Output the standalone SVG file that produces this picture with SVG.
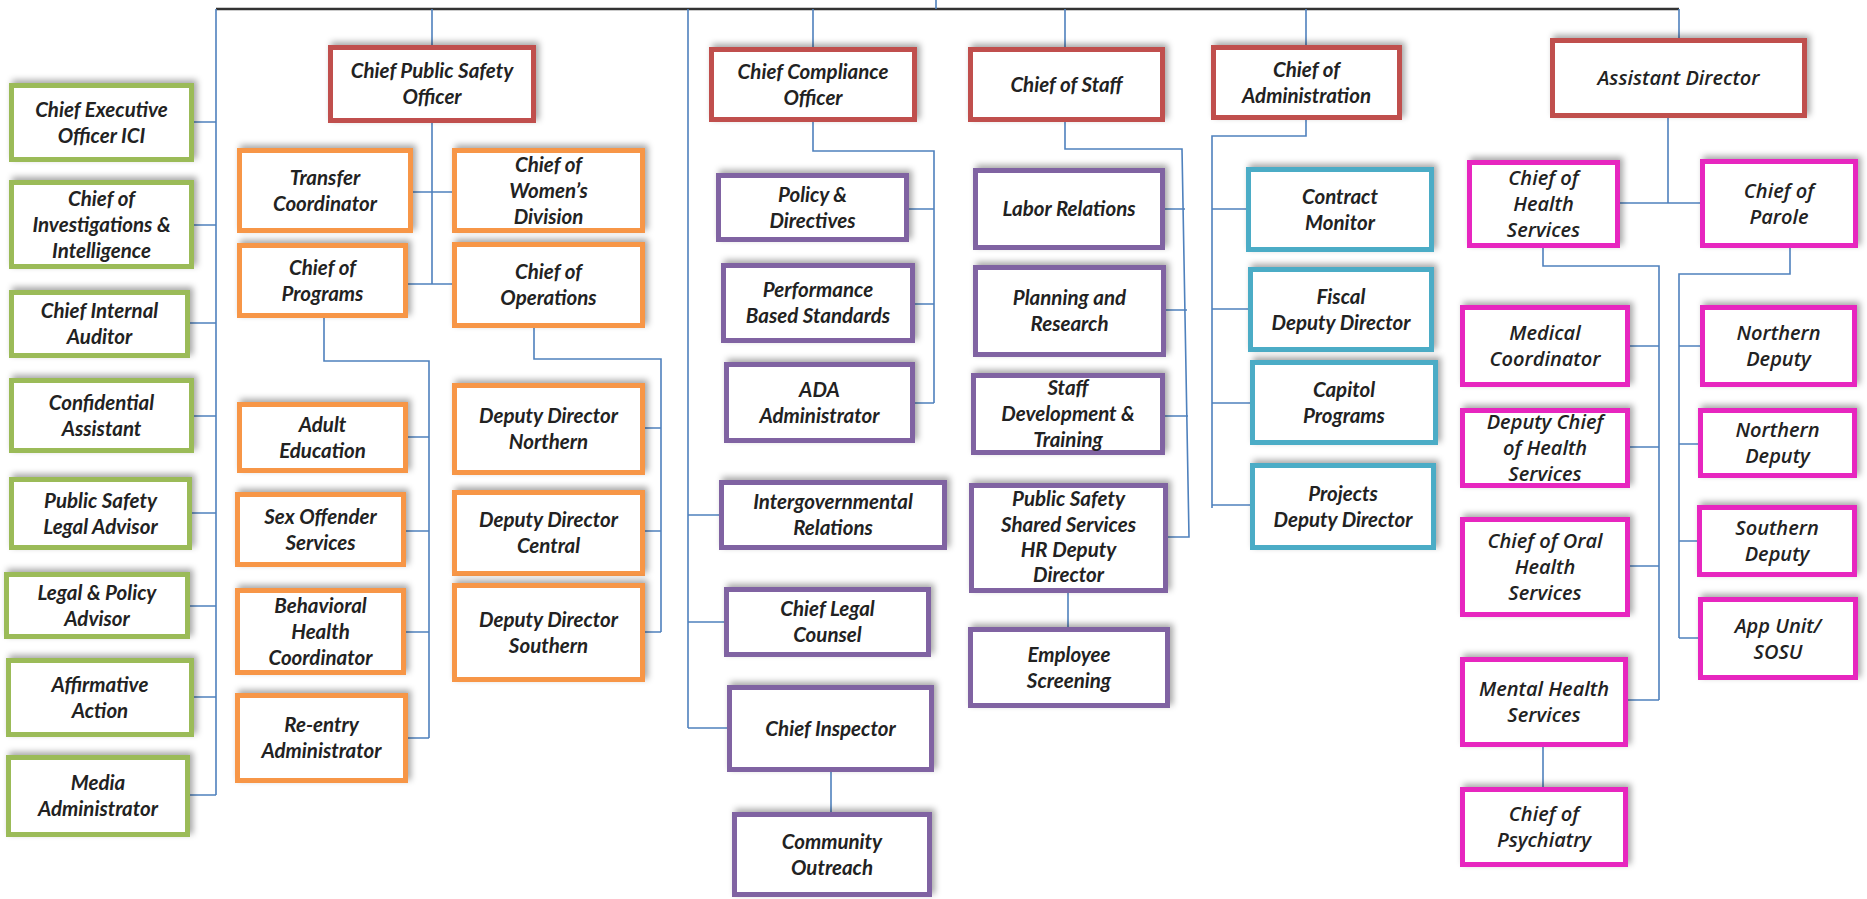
<svg xmlns="http://www.w3.org/2000/svg" width="1867" height="899" viewBox="0 0 1867 899">
<defs>
<filter id="sh" x="-10%" y="-20%" width="120%" height="140%">
<feDropShadow dx="3" dy="-3" stdDeviation="3" flood-color="#000" flood-opacity="0.35"/>
</filter>
<style>
.b{fill:#fff;stroke-width:5;filter:url(#sh)}
.g{stroke:#9BBB59}.r{stroke:#C0504D}.o{stroke:#F79646}.p{stroke:#8064A2}.c{stroke:#4BACC6}.k{stroke:#E727BF}
.t{font-family:Lato,"Liberation Sans",sans-serif;font-style:italic;font-weight:bold;font-size:20.5px;fill:#222;text-anchor:middle}
.t2{font-family:"Open Sans","DejaVu Sans",sans-serif;font-style:italic;font-weight:600;font-size:20px;fill:#222;text-anchor:middle}
.ln{stroke:#4F81BD;stroke-width:1.6;fill:none}
.top{stroke:#333;stroke-width:2.5;fill:none}
</style>
</defs>
<rect width="1867" height="899" fill="#fff"/>

<g id="connectors">
<path class="top" d="M216 9H1679"/>
<path class="ln" d="M936 0V9"/>
<path class="ln" d="M216 9V795M194 122H216M194 225H216M190 323H216M194 416H216M192 513H216M190 606H216M194 697H216M190 795H216"/>
<path class="ln" d="M432 9V45M432 123V284M413 192H452M408 284H452"/>
<path class="ln" d="M324 318V361H429V738M408 437H429M406 531H429M406 632H429M408 738H429"/>
<path class="ln" d="M534 328V359H661V632M645 428H661M645 531H661M645 632H661"/>
<path class="ln" d="M688 9V728M688 515H719M688 622H724M688 728H727"/>
<path class="ln" d="M813 9V47M813 122V151H934V403M909 209H934M915 304H934M915 403H934"/>
<path class="ln" d="M831 772V812"/>
<path class="ln" d="M1065 9V47M1065 122V149H1182L1189 537H1168M1165 209H1185M1166 310H1187M1165 416H1188"/>
<path class="ln" d="M1068 593V627"/>
<path class="ln" d="M1306 9V45M1306 120V136H1212V508M1212 209H1246M1212 309H1248M1212 403H1250M1212 505H1250"/>
<path class="ln" d="M1679 9V38M1668 118V203M1620 203H1700"/>
<path class="ln" d="M1543 248V266H1659V700M1630 346H1659M1630 447H1659M1630 566H1659M1628 700H1659"/>
<path class="ln" d="M1790 248V274H1679V638M1679 346H1700M1679 444H1698M1679 541H1697M1679 638H1698"/>
<path class="ln" d="M1543 747V787"/>
</g>

<g id="n-ceo"><rect class="b g" x="11.5" y="85.5" width="180" height="74"/><text class="t"><tspan x="101.5" y="116.5">Chief Executive</tspan><tspan x="101.5" y="142.5">Officer  ICI</tspan></text></g>
<g id="n-inv"><rect class="b g" x="11.5" y="182.5" width="180" height="84"/><text class="t"><tspan x="101.5" y="205.5">Chief of</tspan><tspan x="101.5" y="231.5">Investigations &amp;</tspan><tspan x="101.5" y="257.5">Intelligence</tspan></text></g>
<g id="n-aud"><rect class="b g" x="11.5" y="292.5" width="176" height="63"/><text class="t"><tspan x="99.5" y="318">Chief Internal</tspan><tspan x="99.5" y="344">Auditor</tspan></text></g>
<g id="n-conf"><rect class="b g" x="11.5" y="380.5" width="180" height="70"/><text class="t"><tspan x="101.5" y="409.5">Confidential</tspan><tspan x="101.5" y="435.5">Assistant</tspan></text></g>
<g id="n-psla"><rect class="b g" x="11.5" y="479.5" width="178" height="68"/><text class="t"><tspan x="100.5" y="507.5">Public Safety</tspan><tspan x="100.5" y="533.5">Legal  Advisor</tspan></text></g>
<g id="n-lpa"><rect class="b g" x="6.5" y="574.5" width="181" height="62"/><text class="t"><tspan x="97" y="599.5">Legal &amp; Policy</tspan><tspan x="97" y="625.5">Advisor</tspan></text></g>
<g id="n-aff"><rect class="b g" x="8.5" y="660.5" width="183" height="74"/><text class="t"><tspan x="100" y="691.5">Affirmative</tspan><tspan x="100" y="717.5">Action</tspan></text></g>
<g id="n-media"><rect class="b g" x="8.5" y="757.5" width="179" height="77"/><text class="t"><tspan x="98" y="790">Media</tspan><tspan x="98" y="816">Administrator</tspan></text></g>

<g id="n-cpso"><rect class="b r" x="330.5" y="47.5" width="203" height="73"/><text class="t"><tspan x="432" y="78">Chief Public Safety</tspan><tspan x="432" y="104">Officer</tspan></text></g>
<g id="n-cco"><rect class="b r" x="711.5" y="49.5" width="203" height="70"/><text class="t"><tspan x="813" y="78.5">Chief Compliance</tspan><tspan x="813" y="104.5">Officer</tspan></text></g>
<g id="n-cos"><rect class="b r" x="970.5" y="49.5" width="192" height="70"/><text class="t"><tspan x="1066.5" y="91.5">Chief of Staff</tspan></text></g>
<g id="n-coa"><rect class="b r" x="1213.5" y="47.5" width="186" height="70"/><text class="t"><tspan x="1306.5" y="76.5">Chief of</tspan><tspan x="1306.5" y="102.5">Administration</tspan></text></g>
<g id="n-ad"><rect class="b r" x="1552.5" y="40.5" width="252" height="75"/><text class="t2"><tspan x="1678.5" y="85">Assistant Director</tspan></text></g>

<g id="n-transfer"><rect class="b o" x="239.5" y="150.5" width="171" height="80"/><text class="t"><tspan x="325" y="184.5">Transfer</tspan><tspan x="325" y="210.5">Coordinator</tspan></text></g>
<g id="n-women"><rect class="b o" x="454.5" y="150.5" width="188" height="80"/><text class="t"><tspan x="548.5" y="171.5">Chief of</tspan><tspan x="548.5" y="197.5">Women’s</tspan><tspan x="548.5" y="223.5">Division</tspan></text></g>
<g id="n-programs"><rect class="b o" x="239.5" y="245.5" width="166" height="70"/><text class="t"><tspan x="322.5" y="274.5">Chief of</tspan><tspan x="322.5" y="300.5">Programs</tspan></text></g>
<g id="n-operations"><rect class="b o" x="454.5" y="244.5" width="188" height="81"/><text class="t"><tspan x="548.5" y="279">Chief of</tspan><tspan x="548.5" y="305">Operations</tspan></text></g>
<g id="n-adulted"><rect class="b o" x="239.5" y="404.5" width="166" height="66"/><text class="t"><tspan x="322.5" y="431.5">Adult</tspan><tspan x="322.5" y="457.5">Education</tspan></text></g>
<g id="n-sexoff"><rect class="b o" x="237.5" y="494.5" width="166" height="70"/><text class="t"><tspan x="320.5" y="523.5">Sex Offender</tspan><tspan x="320.5" y="549.5">Services</tspan></text></g>
<g id="n-behav"><rect class="b o" x="237.5" y="590.5" width="166" height="82"/><text class="t"><tspan x="320.5" y="612.5">Behavioral</tspan><tspan x="320.5" y="638.5">Health</tspan><tspan x="320.5" y="664.5">Coordinator</tspan></text></g>
<g id="n-reentry"><rect class="b o" x="237.5" y="695.5" width="168" height="85"/><text class="t"><tspan x="321.5" y="732">Re-entry</tspan><tspan x="321.5" y="758">Administrator</tspan></text></g>
<g id="n-ddn"><rect class="b o" x="454.5" y="385.5" width="188" height="87"/><text class="t"><tspan x="548.5" y="423">Deputy Director</tspan><tspan x="548.5" y="449">Northern</tspan></text></g>
<g id="n-ddc"><rect class="b o" x="454.5" y="492.5" width="188" height="81"/><text class="t"><tspan x="548.5" y="527">Deputy Director</tspan><tspan x="548.5" y="553">Central</tspan></text></g>
<g id="n-dds"><rect class="b o" x="454.5" y="585.5" width="188" height="94"/><text class="t"><tspan x="548.5" y="626.5">Deputy Director</tspan><tspan x="548.5" y="652.5">Southern</tspan></text></g>

<g id="n-policy"><rect class="b p" x="718.5" y="175.5" width="188" height="64"/><text class="t"><tspan x="812.5" y="201.5">Policy &amp;</tspan><tspan x="812.5" y="227.5">Directives</tspan></text></g>
<g id="n-perf"><rect class="b p" x="723.5" y="265.5" width="189" height="75"/><text class="t"><tspan x="818" y="297">Performance</tspan><tspan x="818" y="323">Based Standards</tspan></text></g>
<g id="n-ada"><rect class="b p" x="726.5" y="364.5" width="186" height="76"/><text class="t"><tspan x="819.5" y="396.5">ADA</tspan><tspan x="819.5" y="422.5">Administrator</tspan></text></g>
<g id="n-intergov"><rect class="b p" x="721.5" y="482.5" width="223" height="65"/><text class="t"><tspan x="833" y="509">Intergovernmental</tspan><tspan x="833" y="535">Relations</tspan></text></g>
<g id="n-legal"><rect class="b p" x="726.5" y="589.5" width="202" height="65"/><text class="t"><tspan x="827.5" y="616">Chief Legal</tspan><tspan x="827.5" y="642">Counsel</tspan></text></g>
<g id="n-inspector"><rect class="b p" x="729.5" y="687.5" width="202" height="82"/><text class="t"><tspan x="830.5" y="735.5">Chief Inspector</tspan></text></g>
<g id="n-community"><rect class="b p" x="734.5" y="814.5" width="195" height="80"/><text class="t"><tspan x="832" y="848.5">Community</tspan><tspan x="832" y="874.5">Outreach</tspan></text></g>
<g id="n-labor"><rect class="b p" x="975.5" y="170.5" width="187" height="77"/><text class="t"><tspan x="1069" y="216">Labor Relations</tspan></text></g>
<g id="n-planning"><rect class="b p" x="975.5" y="267.5" width="188" height="87"/><text class="t"><tspan x="1069.5" y="305">Planning and</tspan><tspan x="1069.5" y="331">Research</tspan></text></g>
<g id="n-staffdev"><rect class="b p" x="973.5" y="375.5" width="189" height="77"/><text class="t"><tspan x="1068" y="395">Staff</tspan><tspan x="1068" y="421">Development  &amp;</tspan><tspan x="1068" y="447">Training</tspan></text></g>
<g id="n-psss"><rect class="b p" x="971.5" y="485.5" width="194" height="105"/><text class="t"><tspan x="1068.5" y="506">Public Safety</tspan><tspan x="1068.5" y="531.5">Shared Services</tspan><tspan x="1068.5" y="557">HR Deputy</tspan><tspan x="1068.5" y="582">Director</tspan></text></g>
<g id="n-empscr"><rect class="b p" x="970.5" y="629.5" width="197" height="76"/><text class="t"><tspan x="1069" y="661.5">Employee</tspan><tspan x="1069" y="687.5">Screening</tspan></text></g>

<g id="n-contract"><rect class="b c" x="1248.5" y="169.5" width="183" height="80"/><text class="t"><tspan x="1340" y="203.5">Contract</tspan><tspan x="1340" y="229.5">Monitor</tspan></text></g>
<g id="n-fiscal"><rect class="b c" x="1250.5" y="269.5" width="181" height="80"/><text class="t"><tspan x="1341" y="303.5">Fiscal</tspan><tspan x="1341" y="329.5">Deputy Director</tspan></text></g>
<g id="n-capitol"><rect class="b c" x="1252.5" y="362.5" width="183" height="80"/><text class="t"><tspan x="1344" y="396.5">Capitol</tspan><tspan x="1344" y="422.5">Programs</tspan></text></g>
<g id="n-projects"><rect class="b c" x="1252.5" y="465.5" width="181" height="82"/><text class="t"><tspan x="1343" y="500.5">Projects</tspan><tspan x="1343" y="526.5">Deputy Director</tspan></text></g>

<g id="n-health"><rect class="b k" x="1469.5" y="162.5" width="148" height="83"/><text class="t2"><tspan x="1543.5" y="185">Chief of</tspan><tspan x="1543.5" y="211">Health</tspan><tspan x="1543.5" y="237">Services</tspan></text></g>
<g id="n-parole"><rect class="b k" x="1702.5" y="161.5" width="153" height="84"/><text class="t2"><tspan x="1779" y="197.5">Chief of</tspan><tspan x="1779" y="223.5">Parole</tspan></text></g>
<g id="n-medical"><rect class="b k" x="1462.5" y="307.5" width="165" height="77"/><text class="t2"><tspan x="1545" y="340">Medical</tspan><tspan x="1545" y="366">Coordinator</tspan></text></g>
<g id="n-depchief"><rect class="b k" x="1462.5" y="410.5" width="165" height="75"/><text class="t2"><tspan x="1545" y="429">Deputy Chief</tspan><tspan x="1545" y="455">of Health</tspan><tspan x="1545" y="481">Services</tspan></text></g>
<g id="n-oral"><rect class="b k" x="1462.5" y="519.5" width="165" height="95"/><text class="t2"><tspan x="1545" y="548">Chief of Oral</tspan><tspan x="1545" y="574">Health</tspan><tspan x="1545" y="600">Services</tspan></text></g>
<g id="n-mental"><rect class="b k" x="1462.5" y="659.5" width="163" height="85"/><text class="t2"><tspan x="1544" y="696">Mental Health</tspan><tspan x="1544" y="722">Services</tspan></text></g>
<g id="n-psych"><rect class="b k" x="1462.5" y="789.5" width="163" height="75"/><text class="t2"><tspan x="1544" y="821">Chief of</tspan><tspan x="1544" y="847">Psychiatry</tspan></text></g>
<g id="n-north1"><rect class="b k" x="1702.5" y="307.5" width="152" height="77"/><text class="t2"><tspan x="1778.5" y="340">Northern</tspan><tspan x="1778.5" y="366">Deputy</tspan></text></g>
<g id="n-north2"><rect class="b k" x="1700.5" y="410.5" width="154" height="65"/><text class="t2"><tspan x="1777.5" y="437">Northern</tspan><tspan x="1777.5" y="463">Deputy</tspan></text></g>
<g id="n-south"><rect class="b k" x="1699.5" y="507.5" width="155" height="67"/><text class="t2"><tspan x="1777" y="535">Southern</tspan><tspan x="1777" y="561">Deputy</tspan></text></g>
<g id="n-app"><rect class="b k" x="1700.5" y="599.5" width="155" height="78"/><text class="t2"><tspan x="1778" y="632.5">App Unit/</tspan><tspan x="1778" y="658.5">SOSU</tspan></text></g>
</svg>
